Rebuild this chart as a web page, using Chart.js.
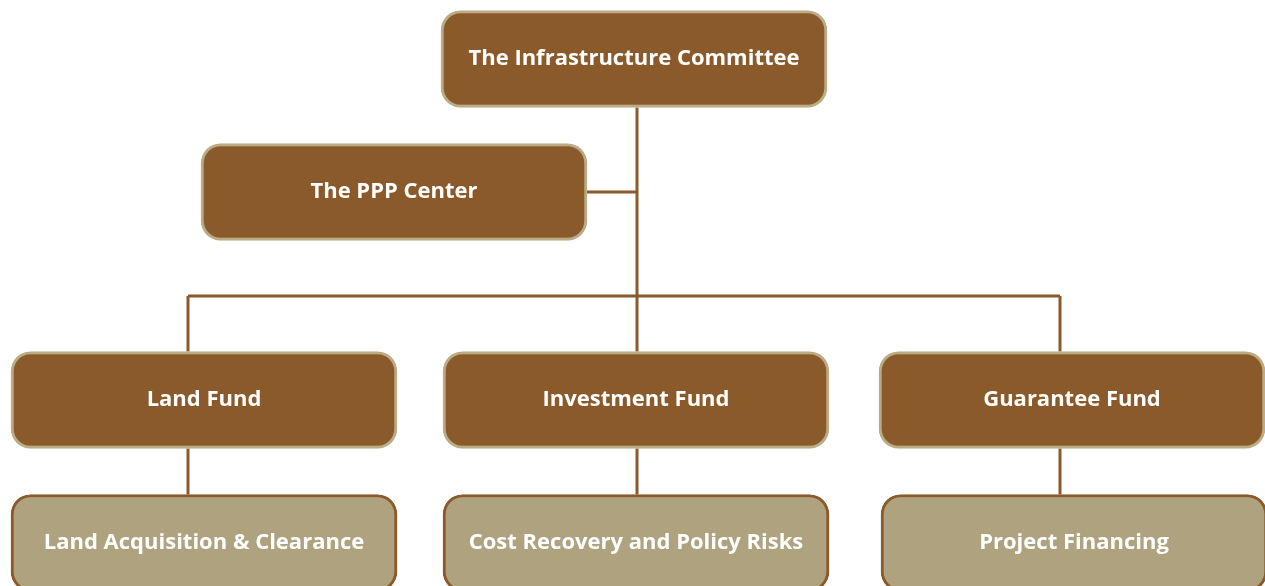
<!DOCTYPE html>
<html lang="en">
<head>
    <meta charset="UTF-8">
    <title>PPP Structure</title>
    <style>
        html, body {
            margin: 0;
            padding: 0;
            background: #ffffff;
            overflow: hidden;
        }
        .wrap {
            position: relative;
            width: 1265px;
            height: 586px;
        }
    </style>
    <script src="https://cdn.jsdelivr.net/npm/chart.js"></script>
</head>
<body>
    <div class="wrap">
        <canvas id="orgChart"></canvas>
    </div>

    <script>
        // Nodes of the structure
        const nodes = [
            'The Infrastructure Committee',
            'The PPP Center',
            'Land Fund',
            'Investment Fund',
            'Guarantee Fund',
            'Land Acquisition & Clearance',
            'Cost Recovery and Policy Risks',
            'Project Financing'
        ];
        const tiers = [0, 1, 2, 2, 2, 3, 3, 3];

        // Layout (chart units = screen pixels of the 1265x586 area)
        const tierY = [59, 192, 400, 543];
        const boxLeft = [441, 201, 11, 443, 879, 11, 443, 881];
        const boxW = 386;
        const boxH = 97;
        const trunkX = 637;
        const busY = 296;
        const dropX = [188, 637, 1060];

        const dark = '#8B5A2B';
        const light = '#AEA27F';
        const paleEdge = '#BBAC86';

        const boxData = nodes.map((name, i) => ({
            x: [boxLeft[i], boxLeft[i] + boxW],
            y: tierY[tiers[i]]
        }));

        const boxTop = (t) => tierY[t] - boxH / 2;
        const boxBottom = (t) => tierY[t] + boxH / 2;

        // connector segments
        const segments = [
            [[trunkX, boxBottom(0)], [trunkX, boxTop(2)]],
            [[boxLeft[1] + boxW, tierY[1]], [trunkX, tierY[1]]],
            [[dropX[0], busY], [dropX[2], busY]],
            [[dropX[0], busY], [dropX[0], boxTop(2)]],
            [[dropX[2], busY], [dropX[2], boxTop(2)]]
        ];
        dropX.forEach(x => segments.push([[x, boxBottom(2)], [x, boxTop(3)]]));

        const lineSets = segments.map(s => ({
            type: 'line',
            data: s.map(p => ({ x: p[0], y: p[1] })),
            borderColor: dark,
            borderWidth: 3,
            pointRadius: 0,
            fill: false,
            order: 2
        }));

        const labelPlugin = {
            id: 'boxLabels',
            afterDatasetsDraw(chart) {
                const ctx = chart.ctx;
                const meta = chart.getDatasetMeta(0);
                ctx.save();
                ctx.font = 'bold 22px "Open Sans", sans-serif';
                ctx.fillStyle = '#ffffff';
                ctx.textAlign = 'center';
                ctx.textBaseline = 'middle';
                meta.data.forEach((bar, i) => {
                    const cx = (bar.x + bar.base) / 2;
                    ctx.fillText(nodes[i], cx, bar.y);
                });
                ctx.restore();
            }
        };

        new Chart(document.getElementById('orgChart'), {
            type: 'bar',
            data: {
                datasets: [{
                    type: 'bar',
                    indexAxis: 'y',
                    data: boxData,
                    backgroundColor: tiers.map(t => t === 3 ? light : dark),
                    borderColor: tiers.map(t => t === 3 ? dark : paleEdge),
                    borderWidth: 3,
                    borderRadius: 20,
                    borderSkipped: false,
                    barThickness: boxH,
                    order: 1
                }].concat(lineSets)
            },
            options: {
                responsive: true,
                maintainAspectRatio: false,
                animation: false,
                layout: { padding: 0, autoPadding: false },
                scales: {
                    x: { type: 'linear', min: 0, max: 1265, offset: false, grace: 0, display: false },
                    y: { type: 'linear', min: 0, max: 586, offset: false, grace: 0, reverse: true, display: false }
                },
                plugins: {
                    legend: { display: false },
                    tooltip: { enabled: false }
                }
            },
            plugins: [labelPlugin]
        });
    </script>
</body>
</html>
